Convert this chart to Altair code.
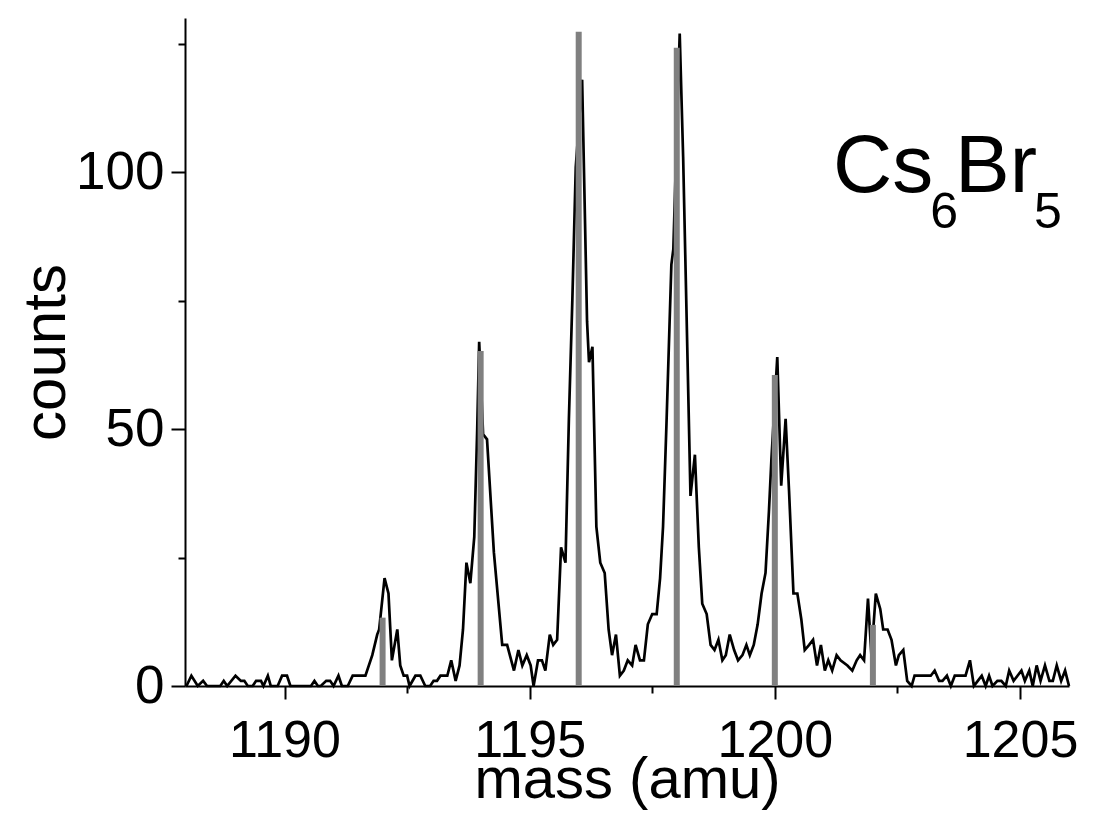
import altair as alt
import pandas as pd

# measured spectrum (mass in amu, counts)
mass = [1188.00, 1188.10, 1188.23, 1188.34, 1188.42, 1188.69, 1188.76, 1188.83, 1189.00, 1189.11,
        1189.18, 1189.25, 1189.35, 1189.42, 1189.52, 1189.57, 1189.66, 1189.72, 1189.86, 1189.95,
        1190.05, 1190.12, 1190.54, 1190.61, 1190.68, 1190.74, 1190.85, 1190.93, 1191.00, 1191.10,
        1191.17, 1191.29, 1191.39, 1191.65, 1191.79, 1191.89, 1191.93, 1192.04, 1192.12, 1192.19,
        1192.30, 1192.36, 1192.43, 1192.50, 1192.55, 1192.67, 1192.77, 1192.87, 1192.97, 1193.04,
        1193.11, 1193.18, 1193.32, 1193.40, 1193.49, 1193.57, 1193.64, 1193.71, 1193.79, 1193.87,
        1193.93, 1193.97, 1194.05, 1194.13, 1194.27, 1194.44, 1194.54, 1194.68, 1194.77, 1194.85,
        1194.94, 1195.02, 1195.08, 1195.17, 1195.25, 1195.32, 1195.41, 1195.48, 1195.56, 1195.64,
        1195.73, 1195.80, 1195.87, 1195.94, 1196.07, 1196.17, 1196.21, 1196.28, 1196.36, 1196.44,
        1196.53, 1196.61, 1196.68, 1196.76, 1196.84, 1196.92, 1197.00, 1197.09, 1197.16, 1197.25,
        1197.33, 1197.41, 1197.50, 1197.59, 1197.66, 1197.72, 1197.79, 1197.89, 1197.93, 1198.06,
        1198.13, 1198.28, 1198.37, 1198.45, 1198.52, 1198.61, 1198.69, 1198.77, 1198.85, 1198.93,
        1199.00, 1199.08, 1199.17, 1199.25, 1199.34, 1199.42, 1199.49, 1199.57, 1199.65, 1199.73,
        1199.81, 1199.88, 1199.93, 1200.05, 1200.13, 1200.22, 1200.29, 1200.38, 1200.46, 1200.54,
        1200.61, 1200.70, 1200.78, 1200.86, 1200.94, 1201.02, 1201.09, 1201.17, 1201.26, 1201.34,
        1201.48, 1201.58, 1201.67, 1201.74, 1201.82, 1201.90, 1201.97, 1202.06, 1202.15, 1202.21,
        1202.30, 1202.38, 1202.47, 1202.53, 1202.62, 1202.70, 1202.79, 1202.85, 1203.18, 1203.26,
        1203.35, 1203.42, 1203.51, 1203.59, 1203.67, 1203.89, 1203.98, 1204.06, 1204.14, 1204.22,
        1204.30, 1204.37, 1204.44, 1204.54, 1204.62, 1204.71, 1204.78, 1204.87, 1204.95, 1205.03,
        1205.10, 1205.19, 1205.26, 1205.34, 1205.42, 1205.51, 1205.60, 1205.67, 1205.75, 1205.84,
        1205.92, 1206.00]
counts = [0, 2, 0, 1, 0, 0, 1, 0, 2, 1,
          1, 0, 0, 1, 1, 0, 2, 0, 0, 2,
          2, 0, 0, 1, 0, 0, 1, 1, 0, 2,
          0, 0, 2, 2, 6, 10, 11, 21, 18, 5,
          11, 4, 2, 2, 0, 2, 2, 0, 0, 1,
          1, 2, 2, 5, 1, 4, 11, 24, 20, 29,
          50, 67, 49, 48, 26, 8, 8, 3, 7, 4,
          6, 4, 0, 5, 5, 3, 10, 8, 9, 27,
          24, 52, 75, 101, 118, 71, 63, 66, 31, 24,
          22, 11, 6, 10, 2, 3, 5, 4, 8, 5,
          5, 12, 14, 14, 21, 31, 51, 82, 85, 127,
          103, 37, 45, 27, 16, 14, 8, 7, 9, 5,
          6, 10, 7, 5, 6, 8, 6, 8, 12, 18,
          22, 34, 44, 64, 39, 52, 38, 18, 18, 13,
          7, 8, 9, 4, 8, 3, 5, 3, 6, 5,
          4, 3, 5, 6, 5, 17, 6, 18, 15, 11,
          11, 9, 4, 6, 7, 1, 0, 2, 2, 3,
          1, 1, 2, 0, 2, 2, 5, 0, 1, 2,
          0, 2, 0, 1, 1, 0, 3, 1, 2, 3,
          1, 3, 0, 4, 1, 4, 1, 1, 4, 1,
          3, 0]

# calculated isotope pattern (stick spectrum)
stick_mass = [1192, 1194, 1196, 1198, 1200, 1202]
stick_counts = [13.3, 65.2, 127.3, 124.2, 60.5, 11.9]

x_ticks = [1190, 1192.5, 1195, 1197.5, 1200, 1202.5, 1205]
y_ticks = [0, 25, 50, 75, 100, 125]

# label "Cs6Br5": (text, is_subscript)
formula_parts = [("Cs", False), ("6", True), ("Br", False), ("5", True)]

FONT = "Liberation Sans, Arial, sans-serif"

spec = pd.DataFrame({"mass": mass, "counts": counts})
sticks = pd.DataFrame({"mass": stick_mass, "counts": stick_counts})

xscale = alt.Scale(domain=[1187.97, 1206], nice=False, zero=False)
yscale = alt.Scale(domain=[0, 130], nice=False, zero=False)

xaxis = alt.Axis(
    values=x_ticks, format="d",
    labelExpr="datum.value % 5 === 0 ? datum.label : ''",
    title="mass (amu)", titleFont=FONT, titleFontSize=58, titleFontWeight="normal",
    titleColor="black", titlePadding=-15,
    labelFont=FONT, labelFontSize=52, labelColor="black", labelPadding=16,
    tickSize={"condition": {"test": "datum.value % 5 === 0", "value": 13}, "value": 7},
    tickWidth=2, tickColor="black", domainWidth=2, domainColor="black",
    grid=False, labelFlush=False, labelOverlap=False,
)
yaxis = alt.Axis(
    values=y_ticks,
    labelExpr="datum.value % 50 === 0 ? datum.label : ''",
    title="counts", titleFont=FONT, titleFontSize=60, titleFontWeight="normal",
    titleColor="black", titlePadding=-2,
    labelFont=FONT, labelFontSize=53, labelColor="black", labelPadding=7,
    tickSize={"condition": {"test": "datum.value % 50 === 0", "value": 14}, "value": 7},
    tickWidth=2, tickColor="black", domainWidth=2, domainColor="black",
    grid=False, labelFlush=False, labelOverlap=False,
)

line = alt.Chart(spec).mark_line(color="black", strokeWidth=2.7, strokeJoin="miter").encode(
    x=alt.X("mass:Q", scale=xscale, axis=xaxis),
    y=alt.Y("counts:Q", scale=yscale, axis=yaxis),
    order="mass:Q",
)

bars = alt.Chart(sticks).mark_rule(color="#808080", strokeWidth=6, strokeCap="butt").encode(
    x=alt.X("mass:Q", scale=xscale),
    y=alt.Y("counts:Q", scale=yscale),
    y2=alt.datum(0),
)

# lay out the formula pieces one after another (Arial advance widths)
ADV = {"C": 0.722, "s": 0.5, "B": 0.667, "r": 0.333, "5": 0.556, "6": 0.556}
MAIN, SUB = 82, 50
cursor = 648.0
formula_layers = []
for txt, sub in formula_parts:
    size = SUB if sub else MAIN
    ypos = 210 if sub else 174
    layer = alt.Chart(pd.DataFrame({"t": [txt]})).mark_text(
        font=FONT, fontSize=size, align="left", baseline="alphabetic", color="black"
    ).encode(text="t:N", x=alt.value(cursor), y=alt.value(ypos))
    formula_layers.append(layer)
    cursor += sum(ADV[c] for c in txt) * size - 3

chart = alt.layer(line, bars, *formula_layers).properties(
    width=884, height=668,
    autosize=alt.AutoSizeParams(type="none"),
    padding={"left": 177, "top": 10, "right": 10, "bottom": 125},
).configure(background="white").configure_view(stroke=None)

chart.save("out.html", embed_options={"renderer": "svg", "actions": False})
